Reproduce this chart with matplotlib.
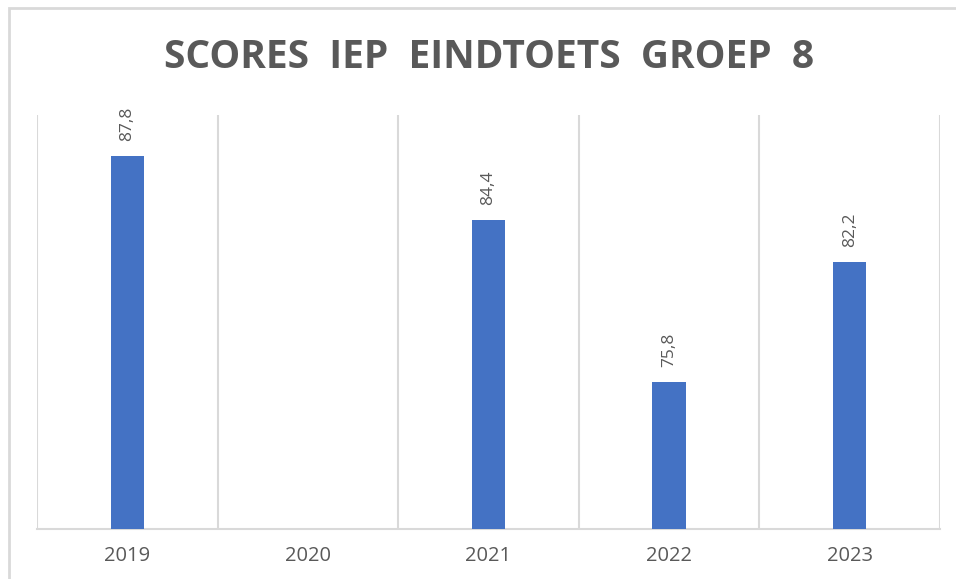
import numpy as np
import matplotlib.pyplot as plt
from matplotlib.patches import Rectangle

years = ["2019", "2020", "2021", "2022", "2023"]
scores = [87.8, np.nan, 84.4, 75.8, 82.2]
labels = ["87,8", "", "84,4", "75,8", "82,2"]

BLUE = "#4472C4"
GREY = "#595959"
LINE = "#d9d9d9"

def main():
	plt.rcParams['font.family'] = ['Open Sans', 'DejaVu Sans']
	fig = plt.figure(figsize=(9.56, 5.79), dpi=100)
	ax = fig.add_axes([37/956, 1-529/579, (940-37)/956, (529-115)/579])

	# outer frame (cut off at right and bottom like the screenshot)
	fig.patches.append(Rectangle((9/956, -0.1), 1.2, 1-8/579+0.1, transform=fig.transFigure,
		fill=False, edgecolor=LINE, linewidth=2))

	x = np.arange(len(years))
	ax.bar(x, scores, width=0.185, color=BLUE, zorder=3)
	for xi, v, t in zip(x, scores, labels):
		if np.isnan(v):
			continue
		ax.annotate(t, (xi, v), xytext=(0, 11), textcoords="offset points",
			rotation=90, ha="center", va="bottom", color=GREY, fontsize=12.5)

	ax.set_ylim(68, 90)
	ax.set_xlim(-0.5, len(years) - 0.5)
	for b in np.arange(-0.5, len(years), 1.0):
		ax.axvline(b, color=LINE, linewidth=1.5, zorder=1)
	for s in ["top", "right", "left"]:
		ax.spines[s].set_visible(False)
	ax.spines["bottom"].set_color(LINE)
	ax.spines["bottom"].set_linewidth(1.5)
	ax.set_yticks([])
	ax.set_xticks(x)
	ax.set_xticklabels(years, color=GREY, fontsize=14.5)
	ax.tick_params(axis="x", length=0, pad=12)

	fig.text(489/956, 1-58/579, "SCORES  IEP  EINDTOETS  GROEP  8", ha="center", va="center",
		fontsize=28, fontweight="bold", color=GREY)

	fig.savefig("out.png", dpi=100)


if __name__ == '__main__':
	main()
